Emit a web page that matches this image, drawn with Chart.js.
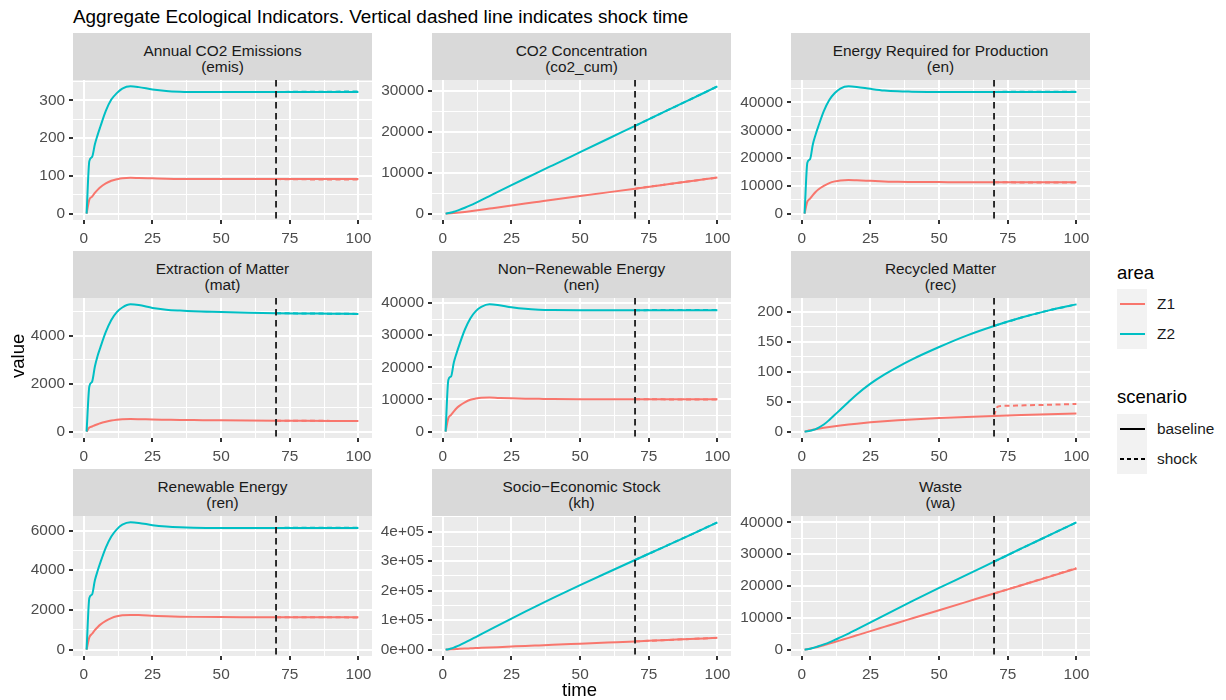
<!DOCTYPE html>
<html>
<head>
<meta charset="utf-8">
<title>Aggregate Ecological Indicators</title>
<script src="https://cdn.jsdelivr.net/npm/chart.js@4.4.1/dist/chart.umd.min.js"></script>
<style>
  html, body { margin: 0; padding: 0; background: #ffffff; }
  body { width: 1226px; height: 700px; position: relative; overflow: hidden;
         font-family: 'Liberation Sans', Arial, sans-serif; }
  .abs { position: absolute; white-space: nowrap; }
  #title { left: 73px; top: 5px; font-size: 18.9px; line-height: 24px; color: #000; }
  .strip { position: absolute; background: #D9D9D9; color: #1A1A1A; font-size: 15.4px;
           line-height: 16px; text-align: center; display: flex; flex-direction: column;
           justify-content: center; box-sizing: border-box; padding-top: 5px; }
  canvas { position: absolute; }
  .axis-title { font-size: 18.5px; color: #000; line-height: 22px; }
  .leg-title { font-size: 18.5px; color: #000; line-height: 22px; }
  .leg-key { position: absolute; width: 30px; height: 30px; background: #F2F2F2; }
  .leg-line { position: absolute; left: 3px; width: 25px; top: 14px; height: 2px; }
  .leg-label { font-size: 15.4px; color: #1A1A1A; line-height: 18px; }
</style>
</head>
<body>
<div id="title" class="abs">Aggregate Ecological Indicators. Vertical dashed line indicates shock time</div>
<div id="panels"></div>
<div class="abs axis-title" style="left:8px; top:357px; transform: rotate(-90deg); transform-origin: 10px 11px;">value</div>
<div class="abs axis-title" style="left:562px; top:679px;">time</div>

<div class="abs leg-title" style="left:1117px; top:262px;">area</div>
<div class="leg-key" style="left:1117px; top:289px;"><div class="leg-line" style="background:#F8766D"></div></div>
<div class="leg-key" style="left:1117px; top:319px;"><div class="leg-line" style="background:#00BFC4"></div></div>
<div class="abs leg-label" style="left:1157px; top:295px;">Z1</div>
<div class="abs leg-label" style="left:1157px; top:325px;">Z2</div>

<div class="abs leg-title" style="left:1117px; top:386px;">scenario</div>
<div class="leg-key" style="left:1117px; top:414px;"><div class="leg-line" style="background:#000"></div></div>
<div class="leg-key" style="left:1117px; top:444px;"><div class="leg-line" style="background:repeating-linear-gradient(to right,#000 0 4px,transparent 4px 7px)"></div></div>
<div class="abs leg-label" style="left:1157px; top:420px;">baseline</div>
<div class="abs leg-label" style="left:1157px; top:450px;">shock</div>

<script>
// ---------------- data ----------------
const SHOCK_TIME = 70;
const time      = [1, 2, 3, 4, 5, 6, 8, 10, 12, 14, 17, 20, 25, 30, 35, 40, 50, 60, 70, 80, 90, 100];
const shockTime = [70, 71, 72, 75, 80, 90, 100];

const xTicks      = [0, 25, 50, 75, 100];
const xTickLabels = ['0', '25', '50', '75', '100'];

const panelTitles = ['Annual CO2 Emissions', 'CO2 Concentration', 'Energy Required for Production',
                     'Extraction of Matter', 'Non\u2212Renewable Energy', 'Recycled Matter',
                     'Renewable Energy', 'Socio\u2212Economic Stock', 'Waste'];
const panelCodes  = ['emis', 'co2_cum', 'en', 'mat', 'nen', 'rec', 'ren', 'kh', 'wa'];

// Annual CO2 Emissions (emis)
const emisZ1      = [0, 37, 45, 55, 63, 70, 80, 87, 91, 94, 95, 94.5, 93.5, 92.5, 92, 92, 91.5, 91.5, 91.5, 91.5, 91.5, 91.5];
const emisZ2      = [0, 139, 150, 183, 208, 230, 272, 302, 319, 331, 337, 335, 329, 325, 323, 322, 322, 322, 322, 322, 322, 322];
const emisShockZ1 = [91.5, 91.4, 91.3, 91.1, 90.8, 90.4, 90.1];
const emisShockZ2 = [322, 322.2, 322.3, 322.5, 322.8, 323, 323.2];
const emisTicks      = [0, 100, 200, 300];
const emisTickLabels = ['0', '100', '200', '300'];

// CO2 Concentration (co2_cum)
const co2Z1      = [0, 37, 82, 137, 200, 270, 420, 590, 770, 955, 1240, 1525, 1995, 2460, 2920, 3380, 4295, 5210, 6125, 7040, 7955, 8870];
const co2Z2      = [0, 139, 289, 472, 680, 910, 1430, 2015, 2644, 3300, 4308, 5316, 6976, 8611, 10231, 11843, 15063, 18283, 21503, 24723, 27943, 31163];
const co2ShockZ1 = [6125, 6216, 6307, 6580, 7035, 7945, 8850];
const co2ShockZ2 = [21503, 21825, 22147, 23113, 24725, 27950, 31180];
const co2Ticks      = [0, 10000, 20000, 30000];
const co2TickLabels = ['0', '10000', '20000', '30000'];

// Energy Required for Production (en)
const enZ1      = [0, 4300, 5400, 6700, 7800, 8700, 10000, 11000, 11600, 11950, 12100, 12000, 11800, 11600, 11450, 11400, 11350, 11300, 11300, 11300, 11300, 11300];
const enZ2      = [0, 18300, 19600, 24900, 28400, 31400, 36900, 40900, 43400, 45000, 45800, 45600, 44900, 44300, 44000, 43900, 43800, 43800, 43800, 43800, 43800, 43800];
const enShockZ1 = [11300, 11290, 11280, 11260, 11240, 11200, 11170];
const enShockZ2 = [43800, 43810, 43820, 43840, 43860, 43880, 43900];
const enTicks      = [0, 10000, 20000, 30000, 40000];
const enTickLabels = ['0', '10000', '20000', '30000', '40000'];

// Extraction of Matter (mat)
const matZ1      = [0, 170, 215, 265, 310, 350, 410, 460, 495, 515, 525, 520, 505, 495, 485, 480, 470, 462, 456, 452, 448, 445];
const matZ2      = [0, 1880, 2080, 2700, 3150, 3500, 4150, 4650, 4980, 5170, 5300, 5270, 5150, 5080, 5040, 5010, 4980, 4950, 4930, 4920, 4910, 4900];
const matShockZ1 = [456, 456, 455, 454, 452, 448, 444];
const matShockZ2 = [4930, 4930, 4929, 4927, 4922, 4912, 4903];
const matTicks      = [0, 2000, 4000];
const matTickLabels = ['0', '2000', '4000'];

// Non-Renewable Energy (nen)
const nenZ1      = [0, 4200, 5200, 6300, 7300, 8000, 9100, 9900, 10300, 10550, 10600, 10500, 10350, 10250, 10200, 10150, 10100, 10100, 10080, 10070, 10060, 10050];
const nenZ2      = [0, 16100, 17200, 21500, 24400, 27000, 31700, 35200, 37500, 38800, 39600, 39400, 38700, 38200, 37950, 37850, 37800, 37800, 37800, 37800, 37800, 37800];
const nenShockZ1 = [10080, 10075, 10070, 10060, 10040, 10000, 9970];
const nenShockZ2 = [37800, 37800, 37800, 37810, 37820, 37840, 37850];
const nenTicks      = [0, 10000, 20000, 30000, 40000];
const nenTickLabels = ['0', '10000', '20000', '30000', '40000'];

// Recycled Matter (rec)
const recZ1      = [0, 1.2, 2.2, 3.1, 4, 4.8, 6.3, 7.7, 9, 10.2, 11.8, 13.3, 15.6, 17.5, 19, 20.3, 22.6, 24.5, 26.2, 27.7, 29.1, 30.4];
const recZ2      = [0, 0.5, 1.3, 2.6, 4.2, 6.3, 11.8, 19.5, 28, 36.5, 49.5, 62, 80, 95, 108, 120, 141, 160, 176, 190, 202, 212];
const recShockZ1 = [26.2, 40, 42.5, 43, 43.6, 44.8, 46];
const recShockZ2 = [176, 177.5, 179, 183, 190, 202, 212];
const recTicks      = [0, 50, 100, 150, 200];
const recTickLabels = ['0', '50', '100', '150', '200'];

// Renewable Energy (ren)
const renZ1      = [0, 620, 800, 980, 1130, 1260, 1450, 1590, 1680, 1730, 1750, 1740, 1710, 1680, 1660, 1650, 1640, 1635, 1630, 1630, 1630, 1630];
const renZ2      = [0, 2600, 2780, 3480, 3960, 4380, 5140, 5700, 6060, 6290, 6410, 6380, 6270, 6200, 6160, 6140, 6130, 6130, 6130, 6130, 6130, 6130];
const renShockZ1 = [1630, 1630, 1630, 1629, 1628, 1626, 1624];
const renShockZ2 = [6130, 6131, 6132, 6134, 6137, 6141, 6144];
const renTicks      = [0, 2000, 4000, 6000];
const renTickLabels = ['0', '2000', '4000', '6000'];

// Socio-Economic Stock (kh)
const khZ1      = [0, 400, 900, 1500, 2100, 2700, 3700, 4500, 5300, 6100, 7300, 8500, 10500, 12500, 14400, 16300, 20200, 24100, 28000, 32000, 36000, 40000];
const khZ2      = [0, 1500, 4000, 7000, 10500, 14500, 23500, 33000, 42800, 52600, 67200, 81700, 105500, 129000, 152000, 174500, 218500, 261500, 304000, 346000, 388500, 431500];
const khShockZ1 = [28000, 28400, 28800, 30000, 32000, 36000, 40000];
const khShockZ2 = [304000, 308200, 312400, 325000, 346000, 388500, 431500];
const khTicks      = [0, 100000, 200000, 300000, 400000];
const khTickLabels = ['0e+00', '1e+05', '2e+05', '3e+05', '4e+05'];

// Waste (wa)
const waZ1      = [0, 110, 280, 480, 700, 920, 1380, 1900, 2400, 2920, 3700, 4500, 5830, 7150, 8470, 9780, 12400, 15020, 17640, 20250, 22870, 25500];
const waZ2      = [0, 120, 300, 530, 780, 1050, 1650, 2300, 3050, 3850, 5050, 6350, 8550, 10800, 13000, 15150, 19400, 23500, 27650, 31800, 35900, 40000];
const waShockZ1 = [17640, 17900, 18160, 18950, 20280, 22930, 25600];
const waShockZ2 = [27650, 28065, 28480, 29725, 31800, 35900, 40000];
const waTicks      = [0, 10000, 20000, 30000, 40000];
const waTickLabels = ['0', '10000', '20000', '30000', '40000'];

// ---------------- layout & style ----------------
const COLOR_Z1 = '#F8766D';
const COLOR_Z2 = '#00BFC4';
const COL_LEFT = [73, 432, 791];
const ROW_TOP  = [33, 251, 469];
const PANEL_W = 299, PANEL_H = 140, STRIP_H = 47;
const Y_AXIS_W = 70, X_AXIS_H = 30, PAD_TOP = 20, PAD_RIGHT = 14;
const TICK_FONT = 15.4;

Chart.defaults.font.family = "'Liberation Sans', Arial, sans-serif";

const panelSeries = [
  [emisZ1, emisZ2, emisShockZ1, emisShockZ2, emisTicks, emisTickLabels],
  [co2Z1, co2Z2, co2ShockZ1, co2ShockZ2, co2Ticks, co2TickLabels],
  [enZ1, enZ2, enShockZ1, enShockZ2, enTicks, enTickLabels],
  [matZ1, matZ2, matShockZ1, matShockZ2, matTicks, matTickLabels],
  [nenZ1, nenZ2, nenShockZ1, nenShockZ2, nenTicks, nenTickLabels],
  [recZ1, recZ2, recShockZ1, recShockZ2, recTicks, recTickLabels],
  [renZ1, renZ2, renShockZ1, renShockZ2, renTicks, renTickLabels],
  [khZ1, khZ2, khShockZ1, khShockZ2, khTicks, khTickLabels],
  [waZ1, waZ2, waShockZ1, waShockZ2, waTicks, waTickLabels]
];

// continuous scale limits padded by 5% of the data range on each side
function expandRange(values) {
  const lo = Math.min(...values), hi = Math.max(...values);
  const pad = (hi - lo) * 0.05;
  return [lo - pad, hi + pad];
}

// major breaks plus the minor breaks half-way between them, kept inside the limits
function gridBreaks(major, lo, hi) {
  const half = (major[1] - major[0]) / 2;
  const out = [];
  for (let v = major[0] - half; v <= major[major.length - 1] + half + 1e-9; v += half) {
    if (v >= lo - 1e-9 && v <= hi + 1e-9) out.push(v);
  }
  return out;
}

function toPoints(xs, ys) { return xs.map((x, i) => ({ x: x, y: ys[i] })); }

function axisOptions(major, labels, lo, hi, fitSide) {
  const labelOf = new Map(major.map((v, i) => [v, labels[i]]));
  const isMajor = v => labelOf.has(v);
  const breaks = gridBreaks(major, lo, hi);
  const opts = {
    type: 'linear',
    min: lo, max: hi,
    afterBuildTicks: scale => { scale.ticks = breaks.map(v => ({ value: v })); },
    border: { display: false },
    grid: {
      color: '#FFFFFF',
      lineWidth: c => (c.tick && isMajor(c.tick.value)) ? 2 : 1,
      drawTicks: true,
      tickLength: 4,
      tickColor: c => (c.tick && isMajor(c.tick.value)) ? '#333333' : 'rgba(0,0,0,0)',
      tickWidth: c => (c.tick && isMajor(c.tick.value)) ? 2 : 0
    },
    ticks: {
      autoSkip: false, maxRotation: 0, minRotation: 0,
      color: '#4D4D4D',
      font: { size: TICK_FONT },
      padding: fitSide === 'y' ? 4 : 6,
      callback: v => labelOf.has(v) ? labelOf.get(v) : ''
    }
  };
  if (fitSide === 'y') opts.afterFit = s => { s.width = Y_AXIS_W; };
  else opts.afterFit = s => { s.height = X_AXIS_H; };
  return opts;
}

const panelBackground = {
  id: 'panelBackground',
  beforeDraw(chart) {
    const { ctx, chartArea: a } = chart;
    ctx.save();
    ctx.fillStyle = '#EBEBEB';
    ctx.fillRect(a.left, a.top, a.right - a.left, a.bottom - a.top);
    ctx.restore();
  }
};

const shockMarker = {
  id: 'shockMarker',
  afterDatasetsDraw(chart) {
    const { ctx, chartArea: a, scales } = chart;
    const px = scales.x.getPixelForValue(SHOCK_TIME);
    ctx.save();
    ctx.beginPath();
    ctx.rect(a.left, a.top, a.right - a.left, a.bottom - a.top);
    ctx.clip();
    ctx.strokeStyle = '#1A1A1A';
    ctx.lineWidth = 1.8;
    ctx.setLineDash([6.5, 4.5]);
    ctx.beginPath();
    ctx.moveTo(px, a.top);
    ctx.lineTo(px, a.bottom);
    ctx.stroke();
    ctx.restore();
  }
};

const [xLo, xHi] = expandRange(time);
const holder = document.getElementById('panels');

panelSeries.forEach((p, idx) => {
  const [z1, z2, s1, s2, yTicks, yLabels] = p;
  const r = Math.floor(idx / 3), c = idx % 3;
  const left = COL_LEFT[c], top = ROW_TOP[r];

  const strip = document.createElement('div');
  strip.className = 'strip';
  strip.style.left = left + 'px';
  strip.style.top = top + 'px';
  strip.style.width = PANEL_W + 'px';
  strip.style.height = STRIP_H + 'px';
  const l1 = document.createElement('div'); l1.textContent = panelTitles[idx];
  const l2 = document.createElement('div'); l2.textContent = '(' + panelCodes[idx] + ')';
  strip.appendChild(l1); strip.appendChild(l2);
  holder.appendChild(strip);

  const canvas = document.createElement('canvas');
  const cw = Y_AXIS_W + PANEL_W + PAD_RIGHT, ch = PAD_TOP + PANEL_H + X_AXIS_H;
  canvas.width = cw; canvas.height = ch;
  canvas.style.width = cw + 'px'; canvas.style.height = ch + 'px';
  canvas.style.left = (left - Y_AXIS_W) + 'px';
  canvas.style.top = (top + STRIP_H - PAD_TOP) + 'px';
  holder.appendChild(canvas);

  const [yLo, yHi] = expandRange([...z1, ...z2, ...s1, ...s2]);

  const line = (data, color, dashed) => ({
    data: data, borderColor: color, backgroundColor: color,
    borderWidth: 2, pointRadius: 0, fill: false,
    cubicInterpolationMode: 'monotone',
    borderDash: dashed ? [5, 3.5] : []
  });

  new Chart(canvas, {
    type: 'line',
    data: {
      datasets: [
        line(toPoints(shockTime, s2), COLOR_Z2, true),
        line(toPoints(time, z2), COLOR_Z2, false),
        line(toPoints(shockTime, s1), COLOR_Z1, true),
        line(toPoints(time, z1), COLOR_Z1, false)
      ]
    },
    options: {
      responsive: false,
      animation: false,
      devicePixelRatio: 1,
      events: [],
      layout: { padding: { top: PAD_TOP, right: PAD_RIGHT, left: 0, bottom: 0 } },
      plugins: { legend: { display: false }, tooltip: { enabled: false }, title: { display: false } },
      scales: {
        x: Object.assign(axisOptions(xTicks, xTickLabels, xLo, xHi, 'x'), { position: 'bottom' }),
        y: Object.assign(axisOptions(yTicks, yLabels, yLo, yHi, 'y'), { position: 'left' })
      }
    },
    plugins: [panelBackground, shockMarker]
  });
});
</script>
</body>
</html>
